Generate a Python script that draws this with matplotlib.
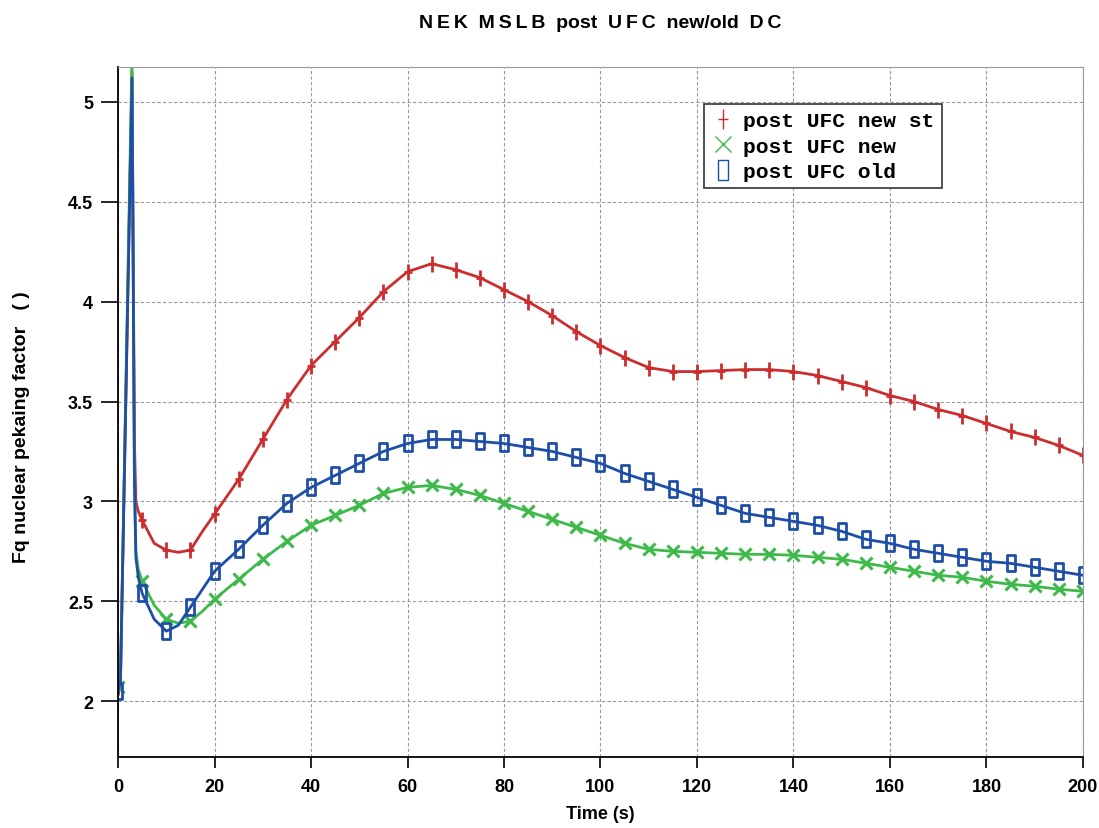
import numpy as np
import matplotlib
matplotlib.use("Agg")
import matplotlib.pyplot as plt
from matplotlib.path import Path
from matplotlib.lines import Line2D

plt.rcParams['font.family'] = ['Liberation Sans Narrow', 'Liberation Sans', 'DejaVu Sans']

# time points (s)
t = [0, 0.5, 2.9, 3.4, 3.7, 4.2, 5, 7.5, 10, 12.5, 15, 17.5, 20,
     25, 30, 35, 40, 45, 50, 55, 60, 65, 70, 75, 80, 85, 90, 95, 100,
     105, 110, 115, 120, 125, 130, 135, 140, 145, 150, 155, 160, 165,
     170, 175, 180, 185, 190, 195, 200]

new_st = [2.07, 2.1, 5.15, 3.3, 3.0, 2.95, 2.906, 2.79, 2.756, 2.745, 2.756, 2.85, 2.936,
          3.11, 3.31, 3.51, 3.68, 3.80, 3.92, 4.05, 4.15, 4.19, 4.16, 4.12, 4.06, 4.00, 3.93,
          3.85, 3.78, 3.72, 3.67, 3.65, 3.65, 3.655, 3.66, 3.66, 3.65, 3.63, 3.60, 3.57,
          3.53, 3.50, 3.46, 3.43, 3.39, 3.35, 3.32, 3.28, 3.23]

new = [2.07, 2.1, 5.25, 3.1, 2.75, 2.66, 2.60, 2.48, 2.41, 2.39, 2.40, 2.45, 2.51,
       2.61, 2.71, 2.80, 2.88, 2.93, 2.98, 3.04, 3.07, 3.08, 3.06, 3.03, 2.99, 2.95, 2.91,
       2.87, 2.83, 2.79, 2.76, 2.75, 2.745, 2.74, 2.735, 2.735, 2.73, 2.72, 2.71, 2.69,
       2.67, 2.65, 2.63, 2.62, 2.60, 2.585, 2.575, 2.56, 2.55]

old = [2.05, 2.1, 5.12, 3.1, 2.72, 2.62, 2.54, 2.41, 2.35, 2.38, 2.47, 2.56, 2.65,
       2.76, 2.88, 2.99, 3.07, 3.13, 3.19, 3.25, 3.29, 3.31, 3.31, 3.30, 3.29, 3.27, 3.25,
       3.22, 3.19, 3.14, 3.10, 3.06, 3.02, 2.98, 2.94, 2.92, 2.90, 2.88, 2.85, 2.81,
       2.79, 2.76, 2.74, 2.72, 2.70, 2.69, 2.67, 2.65, 2.63]

labels = ["post UFC new st", "post UFC new", "post UFC old"]
colors = ["#cc2e30", "#3dba4a", "#1f4ea8"]

# markers every 5 s
marks = [i for i, v in enumerate(t) if v % 5 == 0]

plus_tall = Path([(0, -1), (0, 1), (-0.5, 0), (0.5, 0)],
                 [Path.MOVETO, Path.LINETO, Path.MOVETO, Path.LINETO])
rect_tall = Path([(-0.45, -1), (0.45, -1), (0.45, 1), (-0.45, 1), (-0.45, -1)],
                 [Path.MOVETO, Path.LINETO, Path.LINETO, Path.LINETO, Path.CLOSEPOLY])

fig = plt.figure(figsize=(10.99, 8.29), dpi=100)
ax = fig.add_axes([0.1074, 0.0856, 0.878, 0.8324])

ax.plot(t, new_st, color=colors[0], lw=2, marker=plus_tall, ms=12, mew=2,
        markevery=marks)
ax.plot(t, new, color=colors[1], lw=2, marker="x", ms=8, mew=2.2,
        markevery=marks)
ax.plot(t, old, color=colors[2], lw=2, marker=rect_tall, ms=12, mew=2,
        mfc="none", markevery=marks)

ax.set_xlim(0, 200)
ax.set_ylim(1.72, 5.175)
ax.set_xticks(np.arange(0, 201, 20))
ax.set_yticks([2, 2.5, 3, 3.5, 4, 4.5, 5])
ax.set_yticklabels(["2", "2.5", "3", "3.5", "4", "4.5", "5"])
ax.grid(True, color="#999999", ls=(0, (3, 2)), lw=0.8)
ax.tick_params(axis="y", direction="out", length=12, width=1.2, labelsize=13, pad=6)
ax.tick_params(axis="x", direction="out", length=8, width=1.2, labelsize=13, pad=7)
for lab in ax.get_xticklabels() + ax.get_yticklabels():
    lab.set_fontweight("bold")
ax.spines["top"].set_color("#999999")
ax.spines["right"].set_color("#999999")
ax.spines["left"].set_linewidth(1.3)
ax.spines["bottom"].set_linewidth(1.3)

ts = "\u2009"
title = "  ".join([ts.join("NEK"), ts.join("MSLB"), "post", ts.join("UFC"),
                   "new/old", ts.join("DC")])
ax.set_title(title, fontsize=14, fontweight="bold", pad=29)
ax.set_xlabel("Time (s)", fontsize=13, fontweight="bold", labelpad=7)
ax.set_ylabel("Fq nuclear pekaing factor   ( )", fontsize=14, fontweight="bold")
ax.yaxis.set_label_coords(-0.091, 0.48)

handles = [
    Line2D([], [], ls="none", color=colors[0], marker=plus_tall, ms=15, mew=1),
    Line2D([], [], ls="none", color=colors[1], marker="x", ms=11, mew=1),
    Line2D([], [], ls="none", color=colors[2], marker=rect_tall, ms=15, mew=1,
           mfc="none"),
]
leg = ax.legend(handles, labels, loc="upper left", bbox_to_anchor=(0.596, 0.962),
                prop={"family": "Liberation Mono", "weight": "bold", "size": 15.3},
                frameon=True, fancybox=False, edgecolor="#333333", framealpha=1,
                handletextpad=0.4, borderpad=0.35, labelspacing=0.3, handlelength=1.1)
leg.get_frame().set_linewidth(1.2)

fig.savefig("out.png", dpi=100)
